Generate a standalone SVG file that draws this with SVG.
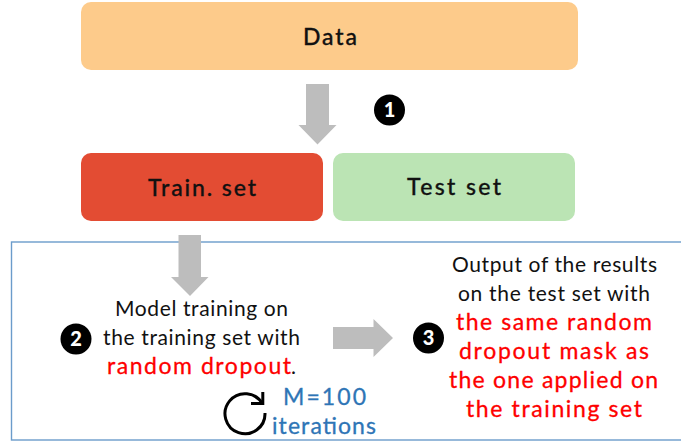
<svg xmlns="http://www.w3.org/2000/svg" width="681" height="441" viewBox="0 0 681 441">
<style>
text{font-family:"Lato","Open Sans","Liberation Sans",sans-serif;font-size:21px;text-anchor:start;fill:#111}
.b{font-size:23px;font-weight:500;stroke:#111;stroke-width:.3px}
.r{fill:#fe0000;font-size:23px;stroke:#fe0000;stroke-width:.3px}
.m{fill:#2e75b6;font-size:23px;stroke:#2e75b6;stroke-width:.3px}
.a{fill:#bdbdbd}
.c{fill:#000}
.n{fill:#fff;font-size:20px;font-weight:900;text-anchor:middle}
</style>
<rect width="681" height="441" fill="#fff"/>
<rect id="frame" x="11.500" y="242" width="680" height="198" fill="none" stroke="#6b9ccb" stroke-width="1.400"/>
<g id="data"><rect x="81" y="2" width="497" height="68" rx="10" fill="#fdcb8b"/><text class="b" x="303" y="45" textLength="54">Data</text></g>
<g id="train"><rect x="81" y="153" width="242" height="68" rx="10" fill="#e34c33"/><text class="b" x="148" y="196" textLength="108">Train. set</text></g>
<g id="test"><rect x="333" y="153" width="242" height="68" rx="10" fill="#bbe4b4"/><text class="b" x="407" y="195" textLength="94">Test set</text></g>
<g id="connectors">
<polygon class="a" points="306,84 329,84 329,125 336.500,125 317.500,144.500 298.500,125 306,125"/>
<polygon class="a" points="178.500,235 201,235 201,277 208.500,277 190,296 171,277 178.500,277"/>
<polygon class="a" points="333,327 373.500,327 373.500,319 393,338 373.500,357 373.500,349 333,349"/>
</g>
<g id="step1"><circle class="c" cx="389.500" cy="110" r="15.500"/><text class="n" x="389.500" y="117">1</text></g>
<g id="step2"><circle class="c" cx="76" cy="339" r="15.500"/><text class="n" x="76" y="346">2</text></g>
<g id="step3"><circle class="c" cx="428.500" cy="338" r="15.500"/><text class="n" x="428.500" y="345">3</text></g>
<g id="training">
<text x="115" y="316" textLength="173">Model training on</text>
<text x="103" y="345" textLength="197">the training set with</text>
<text class="r" x="107" y="374" textLength="184">random dropout</text><text x="291" y="374">.</text>
</g>
<g id="iterations">
<path d="M262.500 404A20 20 0 1 0 265 413" fill="none" stroke="#000" stroke-width="3"/>
<path d="M262.800 392V403.500H251" fill="none" stroke="#000" stroke-width="3"/>
<text class="m" x="283" y="405" textLength="83">M=100</text>
<text class="m" x="272" y="434" textLength="104">iterations</text>
</g>
<g id="output">
<text x="452" y="272" textLength="205">Output of the results</text>
<text x="458" y="301" textLength="192">on the test set with</text>
<text class="r" x="456" y="330" textLength="196">the same random</text>
<text class="r" x="459" y="359" textLength="190">dropout mask as</text>
<text class="r" x="449" y="388" textLength="209">the one applied on</text>
<text class="r" x="466" y="417" textLength="176">the training set</text>
</g>
</svg>
